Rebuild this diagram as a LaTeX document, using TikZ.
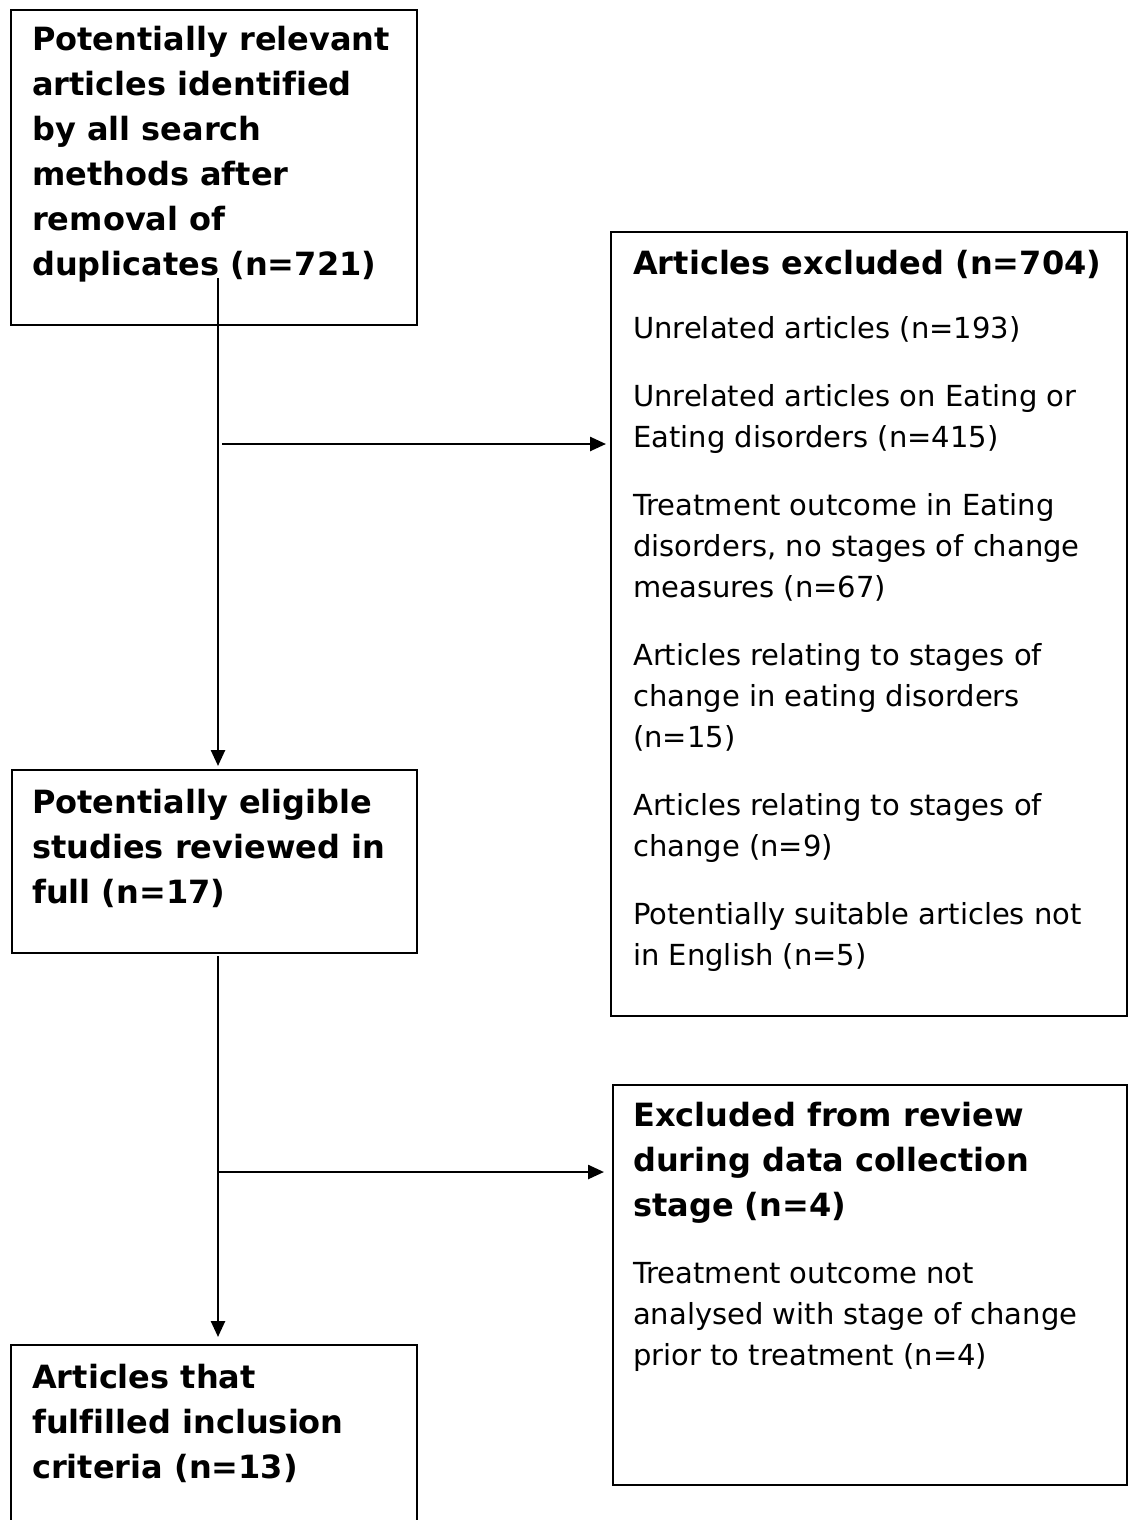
\documentclass[tikz,border=0pt]{standalone}
\usepackage{fontspec}
\setmainfont{DejaVu Sans}[Ligatures=NoCommon]
\usetikzlibrary{arrows.meta}

\begin{document}
\begin{tikzpicture}[x=1pt, y=-1pt,
	box/.style={draw, line width=2pt, inner sep=0pt, anchor=north west},
	head/.style={inner sep=0pt, anchor=north west, align=left, font=\fontsize{32}{45}\selectfont\bfseries},
	body/.style={inner sep=0pt, anchor=north west, align=left, font=\fontsize{29}{41}\selectfont},
	arr/.style={line width=2.5pt, -{Triangle[length=16pt, width=14pt]}}]
	
	\useasboundingbox (0,0) rectangle (1130,1520);
	
	\node[box, minimum width=406pt, minimum height=315pt] (found) at (10,9) {};
	\node[box, minimum width=405pt, minimum height=183pt] (elig) at (11,769) {};
	\node[box, minimum width=406pt, minimum height=220pt] (incl) at (10,1344) {};
	\node[box, minimum width=516pt, minimum height=784pt] (excl1) at (610,231) {};
	\node[box, minimum width=514pt, minimum height=400pt] (excl2) at (612,1084) {};
	
	\node[head] (foundtxt) at (32,18.5) {\strut Potentially relevant\\articles identified\\by all search\\methods after\\removal of\\duplicates (n=721)};
	\node[head] (eligtxt) at (32,781.5) {\strut Potentially eligible\\studies reviewed in\\full (n=17)};
	\node[head] (incltxt) at (32,1356.5) {\strut Articles that\\fulfilled inclusion\\criteria (n=13)};
	
	\node[head] (excl1head) at (633,242.5) {\strut Articles excluded (n=704)};
	\node[body] (excl1txt) at (633,309.3) {\strut Unrelated articles (n=193)\\[27pt]
		Unrelated articles on Eating or\\Eating disorders (n=415)\\[27pt]
		Treatment outcome in Eating\\disorders, no stages of change\\measures (n=67)\\[27pt]
		Articles relating to stages of\\change in eating disorders\\(n=15)\\[27pt]
		Articles relating to stages of\\change (n=9)\\[27pt]
		Potentially suitable articles not\\in English (n=5)};
	
	\node[head] (excl2head) at (633,1094.5) {\strut Excluded from review\\during data collection\\stage (n=4)};
	\node[body] (excl2txt) at (633,1254.3) {\strut Treatment outcome not\\analysed with stage of change\\prior to treatment (n=4)};
	
	\coordinate (s1) at (218,278);
	\coordinate (t1) at (222,444);
	\coordinate (t2) at (218,1172);
	
	\draw[arr, shorten >=3pt] (s1) -- (s1 |- elig.north);
	\draw[arr, shorten >=4pt] (t1) -- (t1 -| excl1.west);
	
	\draw[arr, shorten <=2pt, shorten >=7pt] (s1 |- elig.south) -- (s1 |- incl.north);
	\draw[arr, shorten >=8pt] (t2) -- (t2 -| excl2.west);
	
\end{tikzpicture}
\end{document}
